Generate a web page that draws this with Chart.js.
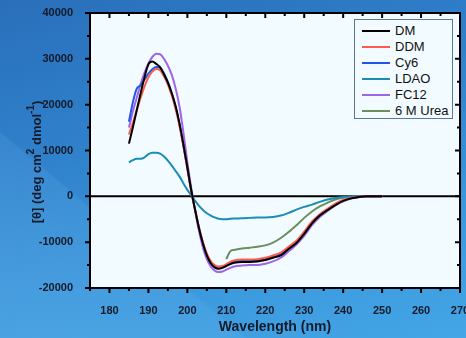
<!DOCTYPE html>
<html>
<head>
<meta charset="utf-8">
<script src="https://cdn.jsdelivr.net/npm/chart.js@4.4.0/dist/chart.umd.min.js"></script>
<style>
    html, body { margin: 0; padding: 0; }
    body {
        width: 466px; height: 338px; overflow: hidden; position: relative;
        font-family: "Liberation Sans", Arial, sans-serif;
        background:
            linear-gradient(40deg, rgba(120, 190, 240, 0.25) 0%, rgba(120, 190, 240, 0.15) 28%, rgba(0, 0, 0, 0) 28.5%),
            linear-gradient(165deg, #2a6fba 0%, #2f80cb 35%, #3a97dc 70%, #44a6e6 100%);
    }
    #chart { position: absolute; left: 0; top: 0; }
    #legend {
        position: absolute; left: 354px; top: 19px; width: 99px; height: 100px;
        border: 1px solid #5b76a6; background: #f2fbff; padding-top: 3px; box-sizing: border-box;
    }
    .item { height: 16px; line-height: 16px; display: flex; align-items: center; font-size: 13px; color: #111; }
    .swatch { width: 28px; height: 2px; margin-left: 7px; margin-right: 5px; }
</style>
</head>
<body>
<canvas id="chart" width="466" height="338"></canvas>
<div id="legend"></div>
<script>
// wavelength (nm) sample points
const wavelengths = [185,186,187,188,189,190,191,192,193,194,195,196,197,198,199,200,201,202,203,204,205,206,207,208,209,210,211,212,214,216,218,220,222,224,226,228,230,232,234,236,238,240,242,244,246,248,250];

const dmValues = [11500,15000,18800,22500,26000,28800,29400,28900,28200,26600,24800,22500,19600,15800,11200,6300,1300,-3000,-7000,-10300,-12900,-14600,-15500,-15800,-15600,-15200,-14800,-14500,-14300,-14300,-14200,-13900,-13400,-12900,-11500,-10200,-8200,-5900,-4200,-3000,-1900,-1000,-450,-150,0,0,0];
const ddmValues = [13500,16000,18800,21500,24000,26000,27200,27800,27500,26200,24400,22000,19000,15300,10900,6000,1000,-3000,-6800,-10000,-12500,-14100,-15000,-15300,-15200,-14800,-14300,-14000,-13800,-13800,-13700,-13400,-12900,-12300,-11000,-9700,-7700,-5500,-3900,-2700,-1600,-800,-350,-100,0,0,0];
const cy6Values = [16300,20500,23500,24200,25500,26800,27700,28200,28000,26800,24900,22400,19500,15600,11000,6200,1200,-3000,-7000,-10300,-12900,-14600,-15400,-15700,-15500,-15100,-14600,-14300,-14100,-14100,-14000,-13700,-13200,-12600,-11300,-10000,-8000,-5800,-4100,-2900,-1800,-950,-400,-150,0,0,0];
const ldaoValues = [7400,7900,8200,8200,8500,9200,9500,9500,9300,8700,7800,6700,5500,4300,2800,1400,200,-1000,-2100,-3000,-3700,-4200,-4600,-4900,-5000,-5000,-4900,-4850,-4800,-4700,-4600,-4600,-4500,-4200,-3600,-2900,-2300,-1800,-1200,-700,-350,-150,-50,0,0,0,0];
const fc12Values = [15000,18500,21500,24500,27000,29000,30400,31100,31000,30000,28500,26500,23500,19500,13800,7400,1800,-3200,-7600,-11200,-13700,-15300,-16200,-16500,-16400,-16000,-15600,-15300,-15100,-15000,-15000,-14700,-14200,-13400,-12000,-10500,-8600,-6300,-4500,-3200,-2000,-1100,-500,-180,0,0,0];
const ureaValues = [null,null,null,null,null,null,null,null,null,null,null,null,null,null,null,null,null,null,null,null,null,null,null,null,null,-13700,-12000,-11700,-11400,-11200,-11000,-10700,-10100,-9100,-7800,-6300,-4700,-3300,-2200,-1400,-700,-300,-100,0,0,0,0];

const seriesNames = ['DM', 'DDM', 'Cy6', 'LDAO', 'FC12', '6 M Urea'];
const seriesColors = ['#000000', '#ff5b4d', '#2255e6', '#1b8db5', '#a064e8', '#6a8f5c'];

const xTickLabels = [180, 190, 200, 210, 220, 230, 240, 250, 260, 270];
const yTickLabels = [-20000, -10000, 0, 10000, 20000, 30000, 40000];

function toPoints(values) {
    return wavelengths.map((w, i) => ({ x: w, y: values[i] })).filter(p => p.y !== null);
}

const allValues = [dmValues, ddmValues, cy6Values, ldaoValues, fc12Values, ureaValues];

// plot background, zero line, box frame with minor ticks and y title
const framePlugin = {
    id: 'frame',
    beforeDatasetsDraw(chart) {
        const { ctx, chartArea: a, scales: { x, y } } = chart;
        ctx.save();
        ctx.fillStyle = '#f2fbff';
        ctx.fillRect(a.left, a.top, a.width, a.height);
        const y0 = y.getPixelForValue(0);
        ctx.strokeStyle = '#000';
        ctx.lineWidth = 2;
        ctx.beginPath();
        ctx.moveTo(a.left, y0);
        ctx.lineTo(a.right, y0);
        ctx.stroke();
        ctx.restore();
    },
    afterDatasetsDraw(chart) {
        const { ctx, chartArea: a, scales: { x, y } } = chart;
        ctx.save();
        ctx.strokeStyle = '#000';
        ctx.lineWidth = 2;
        ctx.strokeRect(a.left, a.top, a.width, a.height);
        ctx.beginPath();
        for (let v = 175; v <= 270; v += 5) {
            const px = x.getPixelForValue(v);
            const len = v % 10 === 0 ? 5 : 3;
            ctx.moveTo(px, a.bottom); ctx.lineTo(px, a.bottom + len);
            ctx.moveTo(px, a.top); ctx.lineTo(px, a.top + len);
        }
        for (let v = -20000; v <= 40000; v += 5000) {
            const py = y.getPixelForValue(v);
            const len = v % 10000 === 0 ? 5 : 3;
            ctx.moveTo(a.left - len, py); ctx.lineTo(a.left, py);
            ctx.moveTo(a.right - len, py); ctx.lineTo(a.right, py);
        }
        ctx.stroke();

        // y axis title with superscripts
        const parts = [
            ['[\u03B8] (deg cm', false], ['2', true], [' dmol', false], ['-1', true], [')', false]
        ];
        const big = 'bold 13px "Liberation Sans", Arial, sans-serif';
        const small = 'bold 10px "Liberation Sans", Arial, sans-serif';
        let total = 0;
        parts.forEach(([t, sup]) => { ctx.font = sup ? small : big; total += ctx.measureText(t).width; });
        ctx.translate(37, 162);
        ctx.rotate(-Math.PI / 2);
        ctx.fillStyle = '#141a2a';
        ctx.textBaseline = 'middle';
        let cx = -total / 2;
        parts.forEach(([t, sup]) => {
            ctx.font = sup ? small : big;
            ctx.fillText(t, cx, sup ? -6 : 0);
            cx += ctx.measureText(t).width;
        });
        ctx.restore();
    }
};

const ctx = document.getElementById('chart');
new Chart(ctx, {
    type: 'line',
    data: {
        datasets: seriesNames.map((name, i) => ({
            label: name,
            data: toPoints(allValues[i]),
            borderColor: seriesColors[i],
            borderWidth: 2,
            pointRadius: 0,
            fill: false,
            cubicInterpolationMode: 'monotone'
        }))
    },
    options: {
        responsive: false,
        animation: false,
        layout: { padding: { left: 0, right: 6, top: 13, bottom: 0 } },
        plugins: {
            legend: { display: false },
            tooltip: { enabled: false }
        },
        scales: {
            x: {
                type: 'linear',
                min: 175,
                max: 270,
                afterBuildTicks: s => { s.ticks = xTickLabels.map(v => ({ value: v })); },
                afterFit: s => { s.height = 50; s.paddingLeft = 0; s.paddingRight = 0; },
                grid: { display: false },
                border: { display: false },
                ticks: {
                    autoSkip: false,
                    maxRotation: 0,
                    padding: 8,
                    color: '#141a2a',
                    callback: v => String(v),
                    font: { family: '"Liberation Sans", Arial, sans-serif', size: 11, weight: 'bold' }
                },
                title: {
                    display: true,
                    text: 'Wavelength (nm)',
                    color: '#141a2a',
                    padding: { top: 0, bottom: 2 },
                    font: { family: '"Liberation Sans", Arial, sans-serif', size: 14, weight: 'bold' }
                }
            },
            y: {
                min: -20000,
                max: 40000,
                afterBuildTicks: s => { s.ticks = yTickLabels.map(v => ({ value: v })); },
                afterFit: s => { s.width = 90; s.paddingTop = 0; s.paddingBottom = 0; },
                grid: { display: false },
                border: { display: false },
                ticks: {
                    padding: 9,
                    color: '#141a2a',
                    callback: v => String(v),
                    font: { family: '"Liberation Sans", Arial, sans-serif', size: 11, weight: 'bold' }
                }
            }
        }
    },
    plugins: [framePlugin]
});

// legend box
const legend = document.getElementById('legend');
seriesNames.forEach((name, i) => {
    const row = document.createElement('div');
    row.className = 'item';
    row.innerHTML = `<span class="swatch" style="background:${seriesColors[i]}"></span>${name}`;
    legend.appendChild(row);
});
</script>
</body>
</html>
